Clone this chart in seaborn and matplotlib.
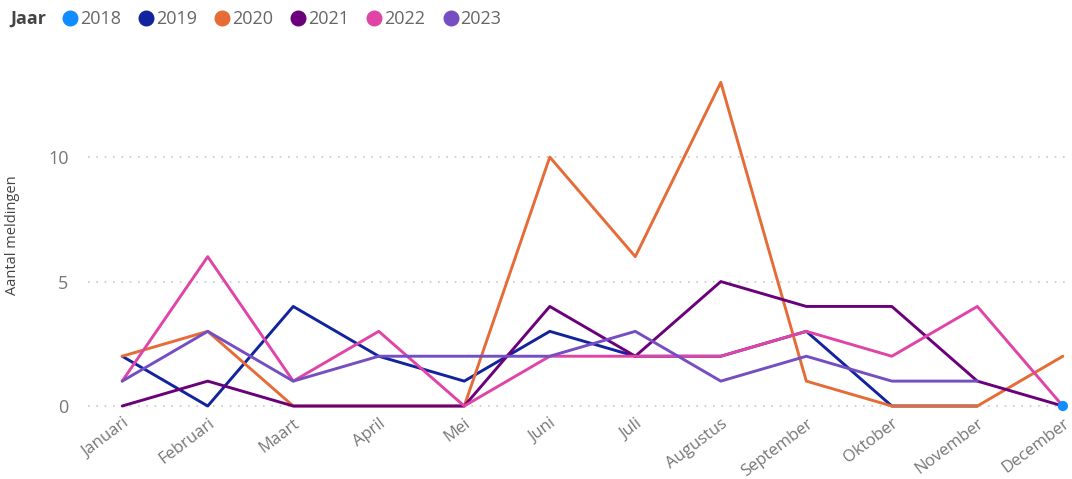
import numpy as np
import pandas as pd
import matplotlib
matplotlib.use("Agg")
import matplotlib.pyplot as plt
import seaborn as sns
from matplotlib.lines import Line2D

months = ["Januari", "Februari", "Maart", "April", "Mei", "Juni", "Juli",
          "Augustus", "September", "Oktober", "November", "December"]
years = ["2018", "2019", "2020", "2021", "2022", "2023"]
nan = np.nan
v2018 = [nan, nan, nan, nan, nan, nan, nan, nan, nan, nan, nan, 0]
v2019 = [2, 0, 4, 2, 1, 3, 2, 2, 3, 0, 0, nan]
v2020 = [2, 3, 0, 0, 0, 10, 6, 13, 1, 0, 0, 2]
v2021 = [0, 1, 0, 0, 0, 4, 2, 5, 4, 4, 1, 0]
v2022 = [1, 6, 1, 3, 0, 2, 2, 2, 3, 2, 4, 0]
v2023 = [1, 3, 1, 2, 2, 2, 3, 1, 2, 1, 1, nan]
series = [v2018, v2019, v2020, v2021, v2022, v2023]
colors = ["#118DFF", "#12239E", "#E66C37", "#6B007B", "#E044A7", "#744EC2"]
yticks = [0, 5, 10]

rows = []
for y, vals in zip(years, series):
    for i, v in enumerate(vals):
        rows.append({"Jaar": y, "idx": i, "Maand": months[i], "Aantal": v})
df = pd.DataFrame(rows)
palette = dict(zip(years, colors))

sns.set_theme(style="white")
plt.rcParams["font.family"] = ["Open Sans", "DejaVu Sans"]

fig = plt.figure(figsize=(10.72, 4.79), dpi=100)
ax = fig.add_axes([88 / 1072, 1 - 410 / 479, (1068 - 88) / 1072, 350 / 479])

sns.lineplot(data=df.dropna(), x="idx", y="Aantal", hue="Jaar", palette=palette,
             hue_order=years, linewidth=2.1, ax=ax, legend=False, sort=True,
             estimator=None)
# single-point series drawn as a dot
single = df[(df["Jaar"] == "2018")].dropna()
sns.scatterplot(data=single, x="idx", y="Aantal", color=palette["2018"], s=55,
                ax=ax, legend=False, zorder=5, clip_on=False, edgecolor="none")

ax.set_xlim(-0.40, 11.06)
ax.set_ylim(-0.16, 13.9)
ax.set_yticks(yticks)
ax.set_yticklabels([str(t) for t in yticks], color="#777777", fontsize=13)
ax.set_xticks(range(len(months)))
ax.set_xticklabels(months, rotation=37, ha="right", rotation_mode="anchor",
                   color="#777777", fontsize=12)
ax.tick_params(axis="x", pad=4, length=0)
ax.tick_params(axis="y", pad=14, length=0)
for t in yticks:
    ax.axhline(t, color="#C8C8C8", linestyle=(0, (1, 4)), linewidth=1.2, zorder=0)
for s in ax.spines.values():
    s.set_visible(False)
ax.set_xlabel("")
ax.set_ylabel("Aantal meldingen", color="#444444", fontsize=10.5, labelpad=20)

# legend
fig.text(10 / 1072, 1 - 19 / 479, "Jaar", fontsize=13, fontweight="bold",
         color="#444444", va="center", ha="left")
handles = [Line2D([0], [0], marker="o", linestyle="", markersize=10.5,
                  markerfacecolor=c, markeredgecolor=c) for c in colors]
leg = fig.legend(handles, years, loc="center left", ncol=6,
                 bbox_to_anchor=(58 / 1072, 1 - 19 / 479), frameon=False,
                 handletextpad=-0.1, columnspacing=0.75, fontsize=13,
                 handlelength=1.3, borderpad=0, borderaxespad=0)
for t in leg.get_texts():
    t.set_color("#666666")

fig.savefig("out.png", dpi=100)
